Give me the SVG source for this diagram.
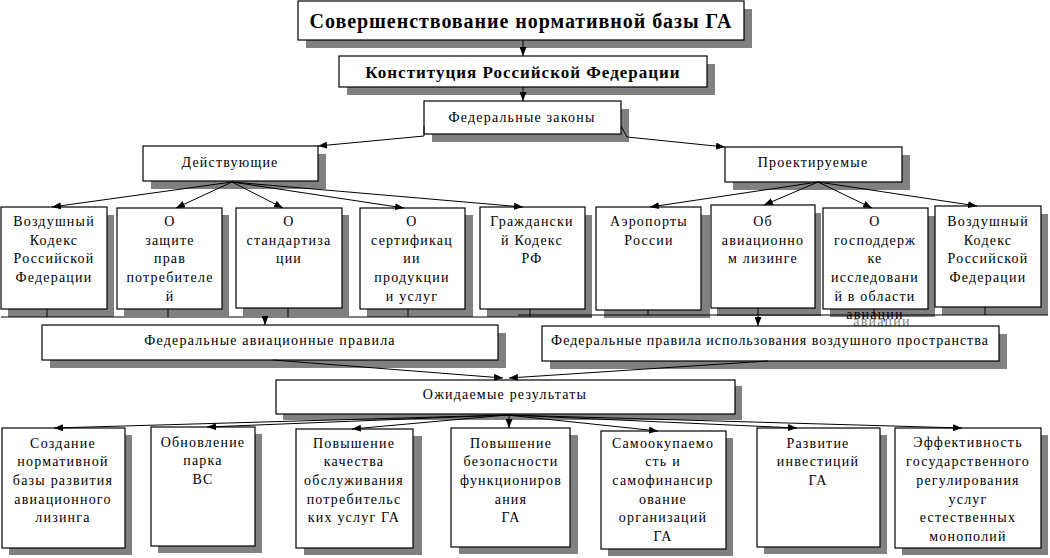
<svg xmlns="http://www.w3.org/2000/svg" width="1050" height="558" viewBox="0 0 1050 558">
<style>
  .sh{fill:#808080;}
  .bx{fill:#fff;stroke:#000;stroke-width:1.2;}
  text{font-family:"Liberation Serif","DejaVu Serif","Times New Roman",serif;font-size:14px;fill:#000;text-anchor:middle;letter-spacing:1.2px;}
  .t1{font-size:20px;font-weight:bold;letter-spacing:0.95px;}
  .t2{font-size:17px;font-weight:bold;letter-spacing:1px;}
  .t3{letter-spacing:1px;}
  .ghost{fill:#808080;}
  .ln{stroke:#000;stroke-width:1;fill:none;}
  .ar{stroke:#000;stroke-width:1;fill:none;marker-end:url(#ah);}
</style>
<defs>
  <marker id="ah" viewBox="0 0 9 7" refX="9" refY="3.5" markerWidth="9" markerHeight="7" markerUnits="userSpaceOnUse" orient="auto">
    <path d="M0,0 L9,3.5 L0,7 z" fill="#000"/>
  </marker>
</defs>
<rect width="1050" height="558" fill="#fff"/>

<g id="title">
  <rect class="sh" x="306" y="9" width="446" height="39"/>
  <rect class="bx" x="298" y="1" width="446" height="39"/>
  <text class="t1" x="521" y="28">Совершенствование нормативной базы ГА</text>
</g>
<g id="constitution">
  <rect class="sh" x="347" y="64" width="368" height="31"/>
  <rect class="bx" x="339" y="56" width="368" height="31"/>
  <text class="t2" x="523" y="78">Конституция Российской Федерации</text>
</g>
<g id="fedlaws">
  <rect class="sh" x="432" y="109" width="197" height="33"/>
  <rect class="bx" x="424" y="101" width="197" height="33"/>
  <text x="522" y="122">Федеральные законы</text>
</g>
<g id="current">
  <rect class="sh" x="151" y="154" width="175" height="35"/>
  <rect class="bx" x="143" y="146" width="175" height="35"/>
  <text x="230" y="167">Действующие</text>
</g>
<g id="planned">
  <rect class="sh" x="733" y="155" width="177" height="35"/>
  <rect class="bx" x="725" y="147" width="177" height="35"/>
  <text x="813" y="167">Проектируемые</text>
</g>

<!-- row 2 -->
<g id="c1">
  <rect class="sh" x="8" y="215" width="106" height="102"/>
  <rect class="bx" x="1" y="207" width="106" height="102"/>
  <text x="54" y="226">Воздушный</text><text x="54" y="245">Кодекс</text><text x="54" y="263">Российской</text><text x="54" y="282">Федерации</text>
</g>
<g id="c2">
  <rect class="sh" x="124" y="215" width="105" height="101"/>
  <rect class="bx" x="117" y="208" width="105" height="101"/>
  <text x="170" y="226">О</text><text x="170" y="245">защите</text><text x="170" y="263">прав</text><text x="170" y="282">потребителе</text><text x="170" y="301">й</text>
</g>
<g id="c3">
  <rect class="sh" x="243" y="215" width="106" height="101"/>
  <rect class="bx" x="236" y="208" width="106" height="100"/>
  <text x="289" y="226">О</text><text x="289" y="245">стандартиза</text><text x="289" y="263">ции</text>
</g>
<g id="c4">
  <rect class="sh" x="367" y="215" width="106" height="102"/>
  <rect class="bx" x="360" y="208" width="105" height="101"/>
  <text x="412" y="226">О</text><text x="412" y="245">сертификац</text><text x="412" y="263">ии</text><text x="412" y="282">продукции</text><text x="412" y="301">и услуг</text>
</g>
<g id="c5">
  <rect class="sh" x="487" y="215" width="105" height="102"/>
  <rect class="bx" x="480" y="207" width="105" height="102"/>
  <text x="532" y="226">Граждански</text><text x="532" y="245">й Кодекс</text><text x="532" y="263">РФ</text>
</g>
<g id="p1">
  <rect class="sh" x="604" y="215" width="106" height="103"/>
  <rect class="bx" x="596" y="207" width="105" height="103"/>
  <text x="649" y="226">Аэропорты</text><text x="649" y="245">России</text>
</g>
<g id="p2">
  <rect class="sh" x="717" y="213" width="104" height="103"/>
  <rect class="bx" x="711" y="205" width="104" height="103"/>
  <text x="763" y="226">Об</text><text x="763" y="245">авиационно</text><text x="763" y="263">м лизинге</text>
</g>
<g id="p3">
  <rect class="sh" x="830" y="216" width="105" height="101"/>
  <rect class="bx" x="823" y="208" width="105" height="101"/>
  <text x="875" y="226">О</text><text x="875" y="245">господдерж</text><text x="875" y="263">ке</text><text x="875" y="282">исследовани</text><text x="875" y="301">й в области</text>
  <text class="ghost" x="882" y="326">авиации</text>
  <text x="875" y="319">авиации</text>
</g>
<g id="p4">
  <rect class="sh" x="942" y="214" width="106" height="101"/>
  <rect class="bx" x="935" y="206" width="106" height="101"/>
  <text x="988" y="226">Воздушный</text><text x="988" y="245">Кодекс</text><text x="988" y="263">Российской</text><text x="988" y="282">Федерации</text>
</g>

<g id="fedavia">
  <rect class="sh" x="50" y="333" width="456" height="35"/>
  <rect class="bx" x="42" y="325" width="456" height="35"/>
  <text x="270" y="345">Федеральные авиационные правила</text>
</g>
<g id="fedair">
  <rect class="sh" x="550" y="334" width="457" height="35"/>
  <rect class="bx" x="542" y="326" width="457" height="35"/>
  <text class="t3" x="770" y="345">Федеральные правила использования воздушного пространства</text>
</g>
<g id="results">
  <rect class="sh" x="283" y="386" width="459" height="34"/>
  <rect class="bx" x="276" y="380" width="459" height="34"/>
  <text x="505" y="399">Ожидаемые результаты</text>
</g>

<!-- row 3 -->
<g id="r1">
  <rect class="sh" x="9" y="435" width="123" height="120"/>
  <rect class="bx" x="2" y="428" width="123" height="120"/>
  <text x="63" y="448">Создание</text><text x="63" y="466">нормативной</text><text x="63" y="485">базы развития</text><text x="63" y="504">авиационного</text><text x="63" y="522">лизинга</text>
</g>
<g id="r2">
  <rect class="sh" x="158" y="434" width="104" height="119"/>
  <rect class="bx" x="151" y="427" width="104" height="119"/>
  <text x="203" y="447">Обновление</text><text x="203" y="465">парка</text><text x="203" y="484">ВС</text>
</g>
<g id="r3">
  <rect class="sh" x="304" y="436" width="118" height="119"/>
  <rect class="bx" x="296" y="429" width="117" height="119"/>
  <text x="354" y="448">Повышение</text><text x="354" y="466">качества</text><text x="354" y="485">обслуживания</text><text x="354" y="504">потребительс</text><text x="354" y="522">ких услуг ГА</text>
</g>
<g id="r4">
  <rect class="sh" x="459" y="435" width="119" height="119"/>
  <rect class="bx" x="451" y="428" width="119" height="119"/>
  <text x="511" y="448">Повышение</text><text x="511" y="466">безопасности</text><text x="511" y="485">функциониров</text><text x="511" y="504">ания</text><text x="511" y="522">ГА</text>
</g>
<g id="r5">
  <rect class="sh" x="608" y="438" width="125" height="118"/>
  <rect class="bx" x="601" y="431" width="125" height="118"/>
  <text x="663" y="448">Самоокупаемо</text><text x="663" y="466">сть и</text><text x="663" y="485">самофинансир</text><text x="663" y="504">ование</text><text x="663" y="522">организаций</text><text x="663" y="541">ГА</text>
</g>
<g id="r6">
  <rect class="sh" x="764" y="435" width="123" height="119"/>
  <rect class="bx" x="757" y="428" width="123" height="119"/>
  <text x="818" y="448">Развитие</text><text x="818" y="466">инвестиций</text><text x="818" y="485">ГА</text>
</g>
<g id="r7">
  <rect class="sh" x="902" y="435" width="146" height="120"/>
  <rect class="bx" x="895" y="428" width="146" height="120"/>
  <text x="968" y="447">Эффективность</text><text x="968" y="466">государственного</text><text x="968" y="485">регулирования</text><text x="968" y="504">услуг</text><text x="968" y="522">естественных</text><text x="968" y="541">монополий</text>
</g>

<g id="connectors">
  <line class="ar" x1="523" y1="40" x2="523" y2="56"/>
  <line class="ar" x1="523" y1="87" x2="523" y2="101"/>
  <polyline class="ar" points="424,126 424,136 318,146"/>
  <polyline class="ar" points="621,126 627,137 725,147"/>

  <line class="ar" x1="232" y1="182" x2="52" y2="207"/>
  <line class="ar" x1="232" y1="182" x2="176" y2="208"/>
  <line class="ar" x1="232" y1="182" x2="283" y2="208"/>
  <line class="ar" x1="232" y1="182" x2="404" y2="208"/>
  <line class="ar" x1="232" y1="182" x2="523" y2="207"/>

  <line class="ar" x1="818" y1="182" x2="650" y2="207"/>
  <line class="ar" x1="818" y1="182" x2="764" y2="205"/>
  <line class="ar" x1="818" y1="182" x2="872" y2="208"/>
  <line class="ar" x1="818" y1="182" x2="977" y2="206"/>

  <line class="ln" x1="1" y1="317" x2="592" y2="317"/>
  <line class="ln" x1="47" y1="309" x2="47" y2="317"/>
  <line class="ln" x1="168" y1="309" x2="168" y2="317"/>
  <line class="ln" x1="288" y1="308" x2="288" y2="317"/>
  <line class="ln" x1="408" y1="309" x2="408" y2="317"/>
  <line class="ln" x1="530" y1="309" x2="530" y2="317"/>
  <line class="ar" x1="265" y1="317" x2="265" y2="325"/>

  <line class="ln" x1="518" y1="315" x2="1048" y2="315"/>
  <line class="ln" x1="648" y1="310" x2="648" y2="315"/>
  <line class="ln" x1="758" y1="308" x2="758" y2="315"/>
  <line class="ln" x1="874" y1="309" x2="874" y2="315"/>
  <line class="ln" x1="985" y1="307" x2="985" y2="315"/>
  <line class="ar" x1="758" y1="315" x2="758" y2="326"/>

  <line class="ar" x1="273" y1="360" x2="503" y2="378"/>
  <line class="ar" x1="768" y1="361" x2="509" y2="378"/>

  <line class="ar" x1="507" y1="415" x2="54" y2="428"/>
  <line class="ar" x1="507" y1="415" x2="207" y2="427"/>
  <line class="ar" x1="507" y1="415" x2="352" y2="429"/>
  <line class="ar" x1="509" y1="414" x2="509" y2="428"/>
  <line class="ar" x1="507" y1="415" x2="658" y2="431"/>
  <line class="ar" x1="507" y1="415" x2="797" y2="428"/>
  <line class="ar" x1="507" y1="415" x2="962" y2="428"/>
</g>
</svg>
